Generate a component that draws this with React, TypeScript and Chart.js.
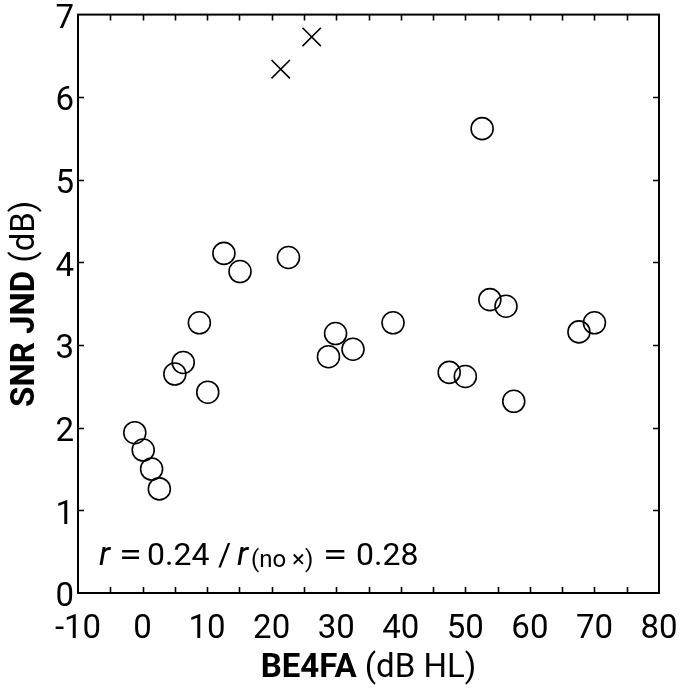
import React, { useEffect, useRef } from "react";
import { Chart, registerables } from "chart.js";

Chart.register(...registerables);

// Data
const CIRCLE_X = [-1.2, 0.1, 1.4, 2.6, 5.0, 6.3, 10.1, 8.8, 12.6, 15.1, 22.6, 29.9, 28.8, 32.6, 38.8, 52.6, 53.8, 56.3, 67.6, 70.0, 47.5, 50.0, 57.5];
const CIRCLE_Y = [1.94, 1.73, 1.50, 1.26, 2.65, 2.79, 2.43, 3.27, 4.11, 3.89, 4.06, 3.14, 2.86, 2.95, 3.27, 5.62, 3.55, 3.47, 3.16, 3.27, 2.67, 2.62, 2.32];
const CROSS_X = [21.4, 26.2];
const CROSS_Y = [6.34, 6.73];

const X_MIN = -10;
const X_MAX = 80;
const X_STEP = 10;
const X_MINOR_STEP = 5;
const Y_MIN = 0;
const Y_MAX = 7;
const Y_STEP = 1;

const X_TITLE_BOLD = "BE4FA";
const X_TITLE_REST = " (dB HL)";
const Y_TITLE_BOLD = "SNR JND";
const Y_TITLE_REST = " (dB)";
const R_ALL = "0.24";
const R_NOX = "0.28";

const FONT = "Roboto, 'Open Sans', 'Noto Sans', sans-serif";

function drawEq(ctx: any, font: string, cx: number, sx: number, y: number) {
  ctx.font = font;
  ctx.save();
  ctx.translate(cx, y);
  ctx.scale(sx, 1);
  ctx.textAlign = "center";
  ctx.fillText("=", 0, 0);
  ctx.restore();
}

const framePlugin = {
  id: "framePlugin",
  afterDraw(chart: any) {
    const ctx = chart.ctx;
    const { left, right, top, bottom } = chart.chartArea;
    const xs = chart.scales.x;
    const ys = chart.scales.y;
    ctx.save();
    ctx.strokeStyle = "#000";
    ctx.lineWidth = 2;
    ctx.strokeRect(left, top, right - left, bottom - top);
    // inward ticks
    const tl = 6;
    ctx.lineWidth = 1.6;
    ctx.beginPath();
    for (let v = X_MIN + X_MINOR_STEP; v < X_MAX; v += X_MINOR_STEP) {
      const px = Math.round(xs.getPixelForValue(v)) + 0.5;
      ctx.moveTo(px, bottom);
      ctx.lineTo(px, bottom - tl);
      ctx.moveTo(px, top);
      ctx.lineTo(px, top + tl);
    }
    for (let v = Y_MIN + Y_STEP; v < Y_MAX; v += Y_STEP) {
      const py = Math.round(ys.getPixelForValue(v)) + 0.5;
      ctx.moveTo(left, py);
      ctx.lineTo(left + tl, py);
      ctx.moveTo(right, py);
      ctx.lineTo(right - tl, py);
    }
    ctx.stroke();

    ctx.fillStyle = "#000";
    ctx.textBaseline = "alphabetic";
    ctx.textAlign = "left";
    // x title
    const bold = `bold 33px ${FONT}`;
    const norm = `33px ${FONT}`;
    ctx.font = bold;
    const wb = ctx.measureText(X_TITLE_BOLD).width;
    ctx.font = norm;
    const wr = ctx.measureText(X_TITLE_REST).width;
    const cx = (left + right) / 2;
    const x0 = cx - (wb + wr) / 2;
    ctx.font = bold;
    ctx.fillText(X_TITLE_BOLD, x0, 677);
    ctx.font = norm;
    ctx.fillText(X_TITLE_REST, x0 + wb, 677);

    // y title
    ctx.save();
    ctx.translate(34, (top + bottom) / 2);
    ctx.rotate(-Math.PI / 2);
    ctx.font = bold;
    const yb = ctx.measureText(Y_TITLE_BOLD).width;
    ctx.font = norm;
    const yr = ctx.measureText(Y_TITLE_REST).width;
    const y0 = -(yb + yr) / 2;
    ctx.font = bold;
    ctx.fillText(Y_TITLE_BOLD, y0, 0);
    ctx.font = norm;
    ctx.fillText(Y_TITLE_REST, y0 + yb, 0);
    ctx.restore();

    // annotation
    const base = 565;
    const af = `32px ${FONT}`;
    const it = `italic 34px ${FONT}`;
    const small = `24px ${FONT}`;
    ctx.font = it;
    ctx.fillText("r", 99, base);
    drawEq(ctx, af, 130.5, 1.3, base);
    ctx.font = af;
    ctx.fillText(R_ALL, 147, base);
    ctx.fillText("/", 218, base);
    ctx.font = it;
    ctx.fillText("r", 237, base);
    ctx.font = small;
    ctx.fillText("(no \u00d7)", 251, base + 2);
    drawEq(ctx, af, 335, 1.4, base);
    ctx.font = af;
    ctx.fillText(R_NOX, 356, base);
    ctx.restore();
  },
};

const noPad = (s: any) => {
  s.paddingLeft = 0;
  s.paddingRight = 0;
  s.paddingTop = 0;
  s.paddingBottom = 0;
};

export default function App() {
  const ref = useRef<HTMLCanvasElement>(null);
  useEffect(() => {
    if (!ref.current) return;
    const circles = CIRCLE_X.map((x, i) => ({ x, y: CIRCLE_Y[i] }));
    const crosses = CROSS_X.map((x, i) => ({ x, y: CROSS_Y[i] }));
    const chart = new Chart(ref.current, {
      type: "scatter",
      data: {
        datasets: [
          {
            data: circles,
            pointStyle: "circle",
            pointRadius: 11,
            pointBorderWidth: 1.6,
            pointBackgroundColor: "rgba(0,0,0,0)",
            pointBorderColor: "#000",
          },
          {
            data: crosses,
            pointStyle: "crossRot",
            pointRadius: 13,
            pointBorderWidth: 1.6,
            pointBorderColor: "#000",
            pointBackgroundColor: "#000",
          },
        ],
      },
      options: {
        animation: false,
        responsive: false,
        devicePixelRatio: 1,
        layout: { padding: { top: 13, right: 21, left: 0, bottom: 0 } },
        plugins: { legend: { display: false }, tooltip: { enabled: false } },
        scales: {
          x: {
            type: "linear",
            min: X_MIN,
            max: X_MAX,
            ticks: {
              stepSize: X_STEP,
              color: "#000",
              font: { family: FONT, size: 33 },
              padding: 17,
              maxRotation: 0,
            },
            grid: { display: false, drawTicks: false },
            border: { display: false },
            afterFit: (s: any) => {
              s.height = 96;
              noPad(s);
            },
          },
          y: {
            type: "linear",
            min: Y_MIN,
            max: Y_MAX,
            ticks: {
              stepSize: Y_STEP,
              color: "#000",
              font: { family: FONT, size: 33 },
              padding: 4,
              labelOffset: 5,
            },
            grid: { display: false, drawTicks: false },
            border: { display: false },
            afterFit: (s: any) => {
              s.width = 78;
              noPad(s);
            },
          },
        },
      },
      plugins: [framePlugin],
    } as any);
    return () => chart.destroy();
  }, []);
  return (
    <div style={{ position: "fixed", left: 0, top: 0, width: 680, height: 689, background: "#fff" }}>
      <canvas ref={ref} width={680} height={689} style={{ width: 680, height: 689, display: "block" }} />
    </div>
  );
}
